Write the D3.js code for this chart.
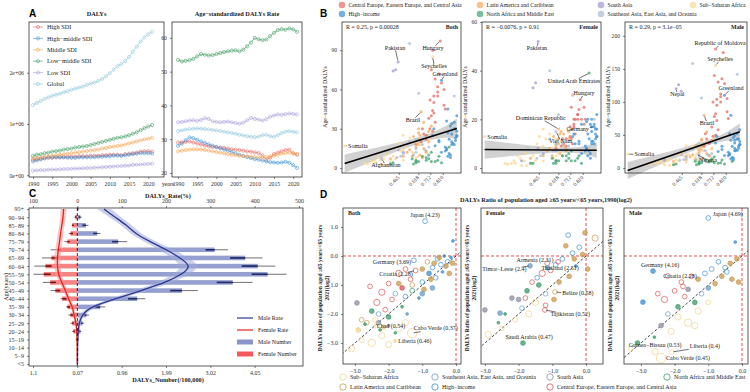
<!DOCTYPE html>
<html>
<head>
<meta charset="utf-8">
<script src="https://cdn.jsdelivr.net/npm/d3@7"></script>
<style>
  body { margin: 0; background: #fff; }
</style>
</head>
<body>
<div id="chart"></div>
<script>

// ---------------- panel A data ----------------
const aYears = [1990, 1991, 1992, 1993, 1994, 1995, 1996, 1997, 1998, 1999, 2000, 2001, 2002, 2003, 2004, 2005,
    2006, 2007, 2008, 2009, 2010, 2011, 2012, 2013, 2014, 2015, 2016, 2017, 2018, 2019, 2020, 2021];
const aGroups = ['High SDI', 'High\u2212middle SDI', 'Middle SDI', 'Low\u2212middle SDI', 'Low SDI', 'Global'];
const aColors = ['#E2625A', '#3A8ED3', '#F2A24E', '#3B9A5C', '#A89CD9', '#8DC5DB'];
const aYearTicks = [1990, 1995, 2000, 2005, 2010, 2015, 2020];

// DALYs counts, millions
const numHigh = [0.30, 0.31, 0.32, 0.33, 0.34, 0.34, 0.35, 0.35, 0.35, 0.36, 0.36, 0.36, 0.37, 0.37, 0.37, 0.38,
    0.38, 0.38, 0.39, 0.39, 0.40, 0.40, 0.40, 0.39, 0.41, 0.42, 0.43, 0.44, 0.46, 0.47, 0.47, 0.46];
const numHighMid = [0.27, 0.29, 0.31, 0.33, 0.35, 0.35, 0.35, 0.35, 0.35, 0.34, 0.34, 0.34, 0.35, 0.35, 0.35, 0.35,
    0.35, 0.36, 0.36, 0.37, 0.37, 0.38, 0.38, 0.38, 0.39, 0.40, 0.41, 0.42, 0.43, 0.43, 0.43, 0.42];
const numMid = [0.33, 0.34, 0.35, 0.36, 0.37, 0.38, 0.39, 0.40, 0.41, 0.42, 0.43, 0.44, 0.45, 0.46, 0.47, 0.48,
    0.49, 0.50, 0.52, 0.53, 0.55, 0.56, 0.57, 0.58, 0.60, 0.62, 0.64, 0.66, 0.68, 0.70, 0.71, 0.73];
const numLowMid = [0.38, 0.40, 0.41, 0.43, 0.44, 0.46, 0.47, 0.48, 0.50, 0.51, 0.52, 0.54, 0.55, 0.56, 0.57, 0.59,
    0.61, 0.63, 0.65, 0.67, 0.69, 0.71, 0.73, 0.74, 0.76, 0.78, 0.81, 0.84, 0.88, 0.92, 0.95, 0.98];
const numLow = [0.09, 0.095, 0.10, 0.10, 0.105, 0.11, 0.11, 0.115, 0.12, 0.12, 0.125, 0.13, 0.13, 0.135, 0.14, 0.14,
    0.145, 0.15, 0.155, 0.16, 0.165, 0.17, 0.175, 0.18, 0.185, 0.19, 0.20, 0.205, 0.21, 0.215, 0.22, 0.225];
const numGlobal = [1.37, 1.41, 1.45, 1.49, 1.52, 1.55, 1.57, 1.59, 1.62, 1.64, 1.67, 1.69, 1.71, 1.73, 1.76, 1.79,
    1.81, 1.84, 1.88, 1.93, 1.99, 2.06, 2.13, 2.17, 2.23, 2.31, 2.41, 2.51, 2.61, 2.69, 2.75, 2.80];

// age-standardized DALYs rate
const rateHigh = [29.0, 29.1, 29.2, 29.3, 29.0, 28.7, 28.4, 28.1, 27.9, 27.7, 27.6, 27.5, 27.4, 27.2, 27.0, 26.9,
    26.8, 26.6, 26.4, 26.3, 26.1, 25.9, 25.2, 24.0, 24.5, 25.6, 26.0, 26.4, 26.8, 26.9, 25.8, 25.4];
const rateHighMid = [28.0, 28.7, 29.7, 30.5, 30.3, 29.8, 29.3, 28.9, 28.5, 28.1, 27.7, 27.3, 26.9, 26.6, 26.2, 25.8,
    25.4, 25.0, 24.7, 24.4, 24.1, 23.9, 23.7, 23.4, 23.2, 23.1, 23.0, 23.1, 23.3, 23.0, 22.3, 21.5];
const rateMid = [26.4, 26.6, 26.8, 26.9, 27.0, 27.0, 26.9, 26.8, 26.6, 26.4, 26.2, 26.0, 25.8, 25.6, 25.4, 25.3,
    25.1, 25.0, 24.9, 24.8, 24.7, 24.6, 24.6, 24.7, 24.9, 25.1, 25.4, 25.7, 25.9, 26.0, 25.8, 25.6];
const rateLowMid = [53.5, 53.0, 53.2, 53.4, 53.8, 54.5, 55.2, 55.0, 54.8, 54.9, 55.2, 55.5, 55.8, 56.0, 56.2, 56.3,
    56.0, 56.5, 57.5, 58.6, 60.0, 59.6, 59.3, 59.5, 60.5, 61.5, 62.3, 62.6, 62.4, 62.8, 62.5, 61.8];
const rateLow = [35.0, 35.1, 35.3, 35.5, 35.6, 35.4, 35.7, 36.2, 36.0, 35.3, 35.1, 35.0, 35.1, 35.2, 35.0, 34.8,
    34.6, 34.9, 35.6, 36.3, 36.0, 35.8, 35.5, 35.9, 36.6, 37.0, 37.3, 37.2, 37.4, 37.6, 37.5, 37.3];
const rateGlobal = [32.4, 32.6, 32.8, 33.0, 33.1, 33.2, 33.1, 33.0, 32.9, 32.7, 32.6, 32.4, 32.2, 32.0, 31.8, 31.6,
    31.3, 31.1, 30.9, 30.7, 30.6, 30.8, 31.2, 31.3, 30.9, 30.7, 31.2, 31.8, 32.2, 32.4, 32.2, 32.0];

// ---------------- panel B data ----------------
const bRegions = ['Central Europe, Eastern Europe, and Central Asia', 'Latin America and Caribbean', 'South Asia',
    'Sub\u2212Saharan Africa', 'High\u2212income', 'North Africa and Middle East', 'Southeast Asia, East Asia, and Oceania'];
const bColors = ['#E26A66', '#F2A85C', '#A195D3', '#F8D896', '#3C90D3', '#41A272', '#A6BED6'];
const bFacets = ['Both', 'Female', 'Male'];
const bStats = ['R = 0.25, p = 0.00028', 'R = \u22120.0076, p = 0.91', 'R = 0.29, p = 3.1e\u221205'];
const bFit = [[2.2, 30.5], [7.6, -0.3], [-6.5, 66.7]];          // intercept, slope
const bBand = [[7, 2.5, 7.5], [3.8, 1.0, 3.2], [13, 4, 13]];    // CI half width at min, mean, max SDI
const bYTicks = [[0, 30, 60, 90], [0, 20, 40, 60], [0, 50, 100, 150, 200]];
const bYDomain = [[-3.8, 111.5], [-2.05, 60], [-7.6, 221]];
const bSdiTicks = [0.465, 0.618, 0.712, 0.810];

// name, SDI, region, both, female, male
const bCountries = [
    ['Hungary', 0.79, 0, 97, 28, 175], ['Republic of Moldova', 0.73, 0, 90, 30, 180], ['Czechia', 0.82, 0, 60, 25, 105],
    ['Poland', 0.77, 0, 55, 20, 100], ['Slovakia', 0.77, 0, 62, 22, 112], ['Croatia', 0.77, 0, 58, 22, 108],
    ['Slovenia', 0.83, 0, 45, 20, 75], ['Lithuania', 0.80, 0, 65, 20, 128], ['Latvia', 0.78, 0, 72, 24, 135],
    ['Estonia', 0.82, 0, 48, 18, 85], ['Belarus', 0.75, 0, 68, 20, 130], ['Russian Federation', 0.74, 0, 50, 18, 95],
    ['Ukraine', 0.71, 0, 52, 17, 100], ['Romania', 0.72, 0, 75, 25, 140], ['Bulgaria', 0.74, 0, 55, 20, 104],
    ['Serbia', 0.74, 0, 42, 17, 72], ['Bosnia and Herzegovina', 0.70, 0, 38, 15, 62], ['Montenegro', 0.75, 0, 35, 14, 58],
    ['North Macedonia', 0.71, 0, 30, 13, 48], ['Albania', 0.68, 0, 25, 12, 38], ['Georgia', 0.72, 0, 40, 12, 78],
    ['Armenia', 0.73, 0, 28, 10, 50], ['Azerbaijan', 0.68, 0, 22, 9, 38], ['Kazakhstan', 0.73, 0, 44, 16, 82],
    ['Kyrgyzstan', 0.65, 0, 30, 12, 52], ['Tajikistan', 0.60, 0, 18, 8, 30], ['Turkmenistan', 0.66, 0, 26, 10, 44],
    ['Uzbekistan', 0.64, 0, 20, 9, 33],
    ['Brazil', 0.64, 1, 43, 15, 80], ['Mexico', 0.68, 1, 12, 7, 18], ['Colombia', 0.66, 1, 15, 9, 22],
    ['Peru', 0.65, 1, 8, 5, 12], ['Venezuela', 0.62, 1, 18, 10, 27], ['Ecuador', 0.63, 1, 10, 6, 15],
    ['Bolivia', 0.57, 1, 9, 5, 13], ['Paraguay', 0.62, 1, 22, 12, 32], ['Cuba', 0.70, 1, 28, 15, 42],
    ['Dominican Republic', 0.62, 1, 30, 16, 44], ['Haiti', 0.40, 1, 7, 4, 10], ['Guatemala', 0.50, 1, 9, 5, 13],
    ['Honduras', 0.53, 1, 12, 7, 17], ['Nicaragua', 0.55, 1, 14, 8, 20], ['El Salvador', 0.60, 1, 16, 9, 24],
    ['Costa Rica', 0.70, 1, 20, 12, 29], ['Panama', 0.68, 1, 13, 8, 19], ['Jamaica', 0.63, 1, 25, 14, 36],
    ['Trinidad and Tobago', 0.72, 1, 32, 16, 48], ['Belize', 0.60, 1, 19, 10, 28], ['Guyana', 0.58, 1, 24, 13, 35],
    ['Suriname', 0.62, 1, 27, 12, 42], ['Grenada', 0.66, 1, 35, 14, 55],
    ['Pakistan', 0.46, 2, 81, 52, 116], ['India', 0.44, 2, 75, 35, 126], ['Nepal', 0.42, 2, 74, 33, 120],
    ['Bangladesh', 0.46, 2, 14, 8, 20], ['Bhutan', 0.50, 2, 12, 6, 18], ['Afghanistan', 0.33, 2, 7, 3, 12],
    ['Somalia', 0.04, 3, 17, 13, 21], ['Niger', 0.20, 3, 4, 2, 6], ['Chad', 0.22, 3, 3, 1.5, 5],
    ['Mali', 0.25, 3, 5, 2, 8], ['Central African Republic', 0.27, 3, 6, 3, 9], ['Burkina Faso', 0.28, 3, 4, 2, 7],
    ['South Sudan', 0.30, 3, 8, 5, 10], ['Ethiopia', 0.32, 3, 6, 4, 8], ['Guinea', 0.33, 3, 3, 1, 5],
    ['DR Congo', 0.35, 3, 7, 3, 11], ['Mozambique', 0.36, 3, 10, 6, 14], ['Sierra Leone', 0.37, 3, 2, 1, 4],
    ['Liberia', 0.38, 3, 12, 8, 15], ['Madagascar', 0.40, 3, 5, 2, 8], ['Senegal', 0.40, 3, 3, 2, 5],
    ['Uganda', 0.42, 3, 9, 5, 13], ['Tanzania', 0.44, 3, 7, 3, 11], ['Zimbabwe', 0.45, 3, 15, 10, 21],
    ['Zambia', 0.47, 3, 19, 13, 25], ['Cameroon', 0.48, 3, 13, 8, 18], ['Kenya', 0.50, 3, 14, 9, 20],
    ['Angola', 0.50, 3, 6, 3, 9], ['Ghana', 0.52, 3, 16, 12, 20], ['Namibia', 0.57, 3, 12, 8, 17],
    ['Nigeria', 0.58, 3, 11, 4, 21], ['Cabo Verde', 0.60, 3, 8, 5, 12], ['Botswana', 0.60, 3, 20, 12, 30],
    ['Gabon', 0.62, 3, 9, 6, 12], ['South Africa', 0.64, 3, 18, 11, 26], ['Mauritius', 0.70, 3, 22, 15, 30],
    ['Seychelles', 0.73, 3, 85, 30, 155], ['Eswatini', 0.55, 3, 23, 14, 33], ['Lesotho', 0.50, 3, 25, 16, 34],
    ['Greenland', 0.80, 4, 67, 18, 110], ['Germany', 0.90, 4, 30, 17, 44], ['Japan', 0.87, 4, 10, 6, 15],
    ['United States of America', 0.86, 4, 22, 12, 33], ['United Kingdom', 0.88, 4, 18, 10, 26], ['France', 0.85, 4, 27, 14, 42],
    ['Italy', 0.84, 4, 15, 8, 22], ['Spain', 0.83, 4, 16, 9, 24], ['Canada', 0.88, 4, 20, 11, 30],
    ['Australia', 0.89, 4, 19, 11, 27], ['Finland', 0.90, 4, 35, 18, 52], ['Norway', 0.92, 4, 24, 13, 35],
    ['Sweden', 0.91, 4, 21, 12, 30], ['Denmark', 0.92, 4, 28, 16, 40], ['Belgium', 0.88, 4, 26, 15, 38],
    ['Austria', 0.88, 4, 29, 17, 42], ['Switzerland', 0.90, 4, 18, 10, 27], ['Netherlands', 0.91, 4, 23, 14, 33],
    ['Ireland', 0.88, 4, 34, 20, 49], ['Portugal', 0.78, 4, 21, 10, 33], ['Greece', 0.80, 4, 12, 6, 19],
    ['Israel', 0.85, 4, 9, 5, 14], ['Republic of Korea', 0.86, 4, 11, 7, 16], ['Singapore', 0.87, 4, 8, 4, 12],
    ['Luxembourg', 0.92, 4, 25, 13, 36], ['Iceland', 0.92, 4, 40, 22, 58], ['Chile', 0.75, 4, 17, 10, 25],
    ['Uruguay', 0.74, 4, 30, 14, 48], ['Argentina', 0.73, 4, 25, 13, 38], ['New Zealand', 0.87, 4, 32, 18, 46],
    ['Cyprus', 0.84, 4, 14, 8, 20], ['Malta', 0.83, 4, 13, 7, 19], ['Andorra', 0.84, 4, 36, 19, 52],
    ['Brunei Darussalam', 0.78, 4, 20, 11, 28], ['Monaco', 0.91, 4, 30, 16, 44], ['San Marino', 0.85, 4, 45, 20, 80],
    ['Egypt', 0.60, 5, 6, 3, 9], ['Iran', 0.68, 5, 8, 5, 11], ['Turkey', 0.70, 5, 10, 6, 14],
    ['Saudi Arabia', 0.75, 5, 5, 3, 7], ['United Arab Emirates', 0.86, 5, 16, 39, 10], ['Iraq', 0.60, 5, 4, 2, 6],
    ['Syria', 0.58, 5, 3, 2, 5], ['Morocco', 0.57, 5, 7, 4, 10], ['Algeria', 0.62, 5, 5, 3, 8],
    ['Tunisia', 0.65, 5, 9, 5, 13], ['Libya', 0.68, 5, 6, 3, 9], ['Jordan', 0.70, 5, 7, 4, 10],
    ['Lebanon', 0.72, 5, 12, 7, 17], ['Kuwait', 0.78, 5, 9, 5, 12], ['Qatar', 0.80, 5, 4, 2, 6],
    ['Oman', 0.72, 5, 5, 3, 8], ['Bahrain', 0.77, 5, 6, 4, 8], ['Yemen', 0.40, 5, 3, 2, 5],
    ['Sudan', 0.42, 5, 4, 2, 6], ['Palestine', 0.60, 5, 5, 3, 7],
    ['Mongolia', 0.55, 6, 95, 40, 158], ['China', 0.67, 6, 14, 8, 20], ['Indonesia', 0.60, 6, 12, 7, 17],
    ['Viet Nam', 0.60, 6, 22, 15, 38], ['Thailand', 0.65, 6, 18, 10, 26], ['Philippines', 0.58, 6, 10, 7, 13],
    ['Malaysia', 0.70, 6, 16, 9, 22], ['Cambodia', 0.48, 6, 9, 5, 13], ['Lao PDR', 0.45, 6, 8, 4, 12],
    ['Myanmar', 0.50, 6, 11, 6, 16], ['Papua New Guinea', 0.38, 6, 13, 8, 18], ['Fiji', 0.60, 6, 15, 10, 20],
    ['Samoa', 0.55, 6, 20, 12, 28], ['Sri Lanka', 0.62, 6, 57, 22, 106], ['Taiwan', 0.90, 6, 55, 20, 142]
];
// facet, country, label centre (SDI, value)
const bLabels = [
    [0, 'Pakistan', 0.435, 92], [0, 'Hungary', 0.733, 92], [0, 'Seychelles', 0.741, 78], [0, 'Greenland', 0.827, 72],
    [0, 'Brazil', 0.576, 37], [0, 'Afghanistan', 0.364, 2.3], [0, 'Somalia', 0.144, 16.8],
    [1, 'Pakistan', 0.45, 49.5], [1, 'United Arab Emirates', 0.741, 36], [1, 'Hungary', 0.82, 30.8],
    [1, 'Dominican Republic', 0.48, 20.5], [1, 'Germany', 0.77, 16], [1, 'Viet Nam', 0.636, 11.3], [1, 'Somalia', 0.138, 12.7],
    [2, 'Republic of Moldova', 0.765, 189], [2, 'Seychelles', 0.765, 165], [2, 'Greenland', 0.852, 121],
    [2, 'Nepal', 0.43, 112], [2, 'Brazil', 0.663, 68], [2, 'Nigeria', 0.67, 12], [2, 'Somalia', 0.17, 21]
];

// ---------------- panel C data ----------------
const cAges = ['<5', '5\u22129', '10\u221214', '15\u221219', '20\u221224', '25\u221229', '30\u221234', '35\u221239', '40\u221244',
    '45\u221249', '50\u221254', '55\u221259', '60\u221264', '65\u221269', '70\u221274', '75\u221279', '80\u221284', '85\u221289', '90\u221294', '95+'];
const cMaleRate = [0.5, 0.5, 0.6, 1, 2, 4, 10, 29, 88, 143, 200, 236, 258, 232, 202, 164, 130, 112, 85, 60];
const cMaleRateLo = [0, 0, 0, 0, 0, 1, 5, 20, 76, 128, 183, 218, 238, 212, 186, 150, 118, 100, 72, 44];
const cMaleRateHi = [1, 1, 1, 2, 4, 7, 15, 38, 100, 158, 217, 254, 278, 252, 218, 178, 142, 124, 98, 76];
const cFemRate = [0.2, 0.2, 0.3, 0.5, 1, 3, 7, 11, 20, 27, 35, 43, 45, 45, 43, 40, 38, 35, 32, 31];
const cFemRateLo = [0, 0, 0, 0, 0, 1, 4, 7, 15, 22, 29, 36, 38, 38, 36, 33, 32, 29, 26, 24];
const cFemRateHi = [0.5, 0.5, 0.6, 1, 2, 5, 10, 15, 25, 32, 41, 50, 52, 52, 50, 47, 44, 41, 38, 38];
const cMaleNum = [0, 0, 0, 0.02, 0.07, 0.12, 0.21, 0.53, 1.39, 2.43, 3.61, 4.42, 4.19, 3.9, 3.19, 0.95, 0.46, 0.2, 0.07, 0.02];
const cMaleNumLo = [0, 0, 0, 0.01, 0.05, 0.09, 0.15, 0.42, 1.18, 2.16, 3.24, 4.05, 3.82, 3.55, 2.98, 0.81, 0.37, 0.12, 0.03, 0];
const cMaleNumHi = [0, 0, 0, 0.03, 0.09, 0.16, 0.27, 0.65, 1.58, 2.8, 4.07, 4.86, 4.6, 4.3, 3.5, 1.16, 0.54, 0.26, 0.1, 0.04];
const cFemNum = [0, 0, 0, 0.02, 0.09, 0.12, 0.16, 0.23, 0.35, 0.51, 0.63, 0.78, 0.74, 0.6, 0.46, 0.23, 0.16, 0.12, 0.05, 0.01];
const cFemNumLo = [0, 0, 0, 0.01, 0.06, 0.08, 0.1, 0.17, 0.25, 0.4, 0.5, 0.62, 0.6, 0.48, 0.39, 0.18, 0.1, 0.08, 0.02, 0];
const cFemNumHi = [0, 0, 0, 0.04, 0.12, 0.16, 0.21, 0.26, 0.39, 0.62, 0.8, 1.02, 1.0, 0.82, 0.62, 0.3, 0.2, 0.13, 0.07, 0.02];
const cRateTicks = [-100, 0, 100, 200, 300, 400, 500];
const cRateLabels = ['100', '0', '100', '200', '300', '400', '500'];
const cNumTicks = [-1.03, 0, 1.03, 2.06, 3.09, 4.12];
const cNumLabels = ['1.1', '0.07', '0.96', '1.99', '3.02', '4.05'];

// ---------------- panel D data ----------------
const dColors = ['#D9534F', '#C99A50', '#8C8FA3', '#F0D48A', '#3F8FD2', '#3E9B6A', '#6C9CC6'];
const dLegendOrder = [3, 6, 2, 5, 1, 4, 0];
const dFacets = ['Both', 'Female', 'Male'];
// log2 ratio 1990, log2 ratio 2021, region, size, filled
const dBoth = [
    [-0.92, 1.2, 4, 2, 0], [-0.09, 0.52, 4, 1, 1], [-0.55, -0.1, 4, 2, 0], [-0.45, -0.3, 4, 2, 0], [-0.7, -0.4, 4, 2, 0],
    [-0.35, 0.0, 4, 1, 1], [-0.25, -0.2, 4, 2, 0], [-0.8, -0.6, 4, 2, 1], [-1.25, -0.15, 4, 2, 0], [-0.6, -0.75, 4, 2, 0],
    [-0.15, -0.05, 4, 1, 1], [-1.0, -0.9, 4, 2, 0], [-0.4, -0.55, 4, 1, 1], [-1.5, -1.4, 4, 2, 0], [-1.1, -1.45, 4, 1, 1],
    [-0.5, -0.05, 1, 2, 1], [-0.3, -0.35, 1, 2, 1], [-0.65, -0.25, 1, 2, 1], [-0.2, -0.6, 1, 2, 1], [-0.85, -0.2, 1, 2, 0],
    [-1.0, -0.45, 1, 2, 1], [-0.1, -0.25, 1, 2, 1], [-0.75, -0.8, 1, 2, 1], [-1.3, -1.0, 1, 2, 0], [-2.8, -2.2, 1, 2, 0],
    [-2.65, -2.3, 1, 2, 0], [-1.7, -0.95, 1, 2, 1], [-0.95, -1.15, 1, 2, 1],
    [-1.5, -0.45, 0, 2, 0], [-1.7, -0.6, 0, 3, 0], [-2.0, -0.95, 0, 2, 0], [-1.35, -0.8, 0, 2, 0], [-2.2, -1.25, 0, 3, 0],
    [-1.9, -1.5, 0, 2, 0], [-2.35, -1.6, 0, 3, 0], [-1.6, -1.1, 0, 2, 1], [-2.55, -1.05, 0, 2, 0], [-2.1, -1.85, 0, 2, 0],
    [-1.2, -0.5, 0, 2, 0],
    [-2.5, -1.9, 5, 2, 1], [-2.0, -2.1, 5, 2, 1], [-1.6, -1.75, 5, 1, 1], [-2.7, -2.35, 5, 1, 1], [-1.3, -1.2, 5, 2, 0],
    [-2.25, -2.55, 5, 1, 1], [-1.8, -2.65, 5, 1, 1],
    [-1.0, -1.3, 6, 2, 1], [-1.45, -2.0, 6, 1, 1], [-1.8, -1.3, 6, 2, 0], [-2.3, -2.0, 6, 2, 0], [-0.7, -1.1, 6, 2, 1],
    [-2.94, -1.62, 2, 2, 1], [-2.3, -2.3, 2, 2, 1], [-2.0, -2.4, 2, 1, 1],
    [-2.35, -2.4, 3, 2, 0], [-1.3, -2.66, 3, 6, 0], [-1.81, -2.93, 3, 1, 1], [-2.2, -2.75, 3, 3, 0], [-2.5, -3.0, 3, 4, 0],
    [-2.0, -3.05, 3, 3, 0], [-1.7, -2.5, 3, 3, 0], [-2.8, -2.9, 3, 2, 0], [-3.1, -3.2, 3, 3, 0], [-2.4, -2.2, 3, 2, 0],
    [-1.5, -2.3, 3, 3, 0], [-2.9, -2.55, 3, 2, 1], [-2.15, -2.45, 3, 2, 1]
];
const dFemale = [
    [0.27, 0.62, 1, 3, 0], [-0.03, 0.8, 1, 2, 1], [-0.53, 0.72, 4, 2, 0], [-0.2, 0.3, 4, 2, 0], [-0.4, 0.1, 4, 2, 0],
    [-0.7, -0.1, 4, 2, 0], [-0.1, 0.05, 1, 2, 1], [-0.6, 0.35, 1, 2, 1], [-0.9, -0.3, 4, 2, 0], [-0.3, -0.35, 4, 1, 1],
    [0.05, -0.45, 1, 2, 1], [-1.15, -0.25, 0, 2, 0], [-1.05, -0.5, 0, 2, 0], [-1.3, -0.6, 0, 3, 0], [-1.66, -0.34, 6, 2, 1],
    [-0.83, -0.2, 0, 2, 0], [-1.13, -0.41, 6, 2, 1], [-1.6, -0.9, 0, 2, 0], [-1.4, -1.0, 5, 2, 1], [-1.75, -1.2, 5, 2, 1],
    [-1.2, -1.3, 6, 2, 0], [-0.8, -0.9, 1, 2, 1], [-0.5, -0.7, 1, 2, 1], [-0.92, -1.24, 1, 2, 0], [-2.0, -1.5, 2, 2, 1],
    [-2.2, -1.45, 2, 2, 1], [-1.9, -1.8, 6, 2, 0], [-2.4, -2.0, 5, 1, 1], [-2.1, -2.2, 3, 2, 0], [-1.7, -2.0, 3, 3, 0],
    [-2.5, -2.5, 3, 2, 0], [-2.9, -2.7, 3, 3, 0], [-2.55, -1.97, 6, 2, 1], [-3.0, -1.86, 2, 2, 1], [-1.22, -1.86, 0, 2, 0],
    [-1.87, -3.0, 5, 2, 1], [-2.3, -2.8, 3, 2, 0], [-1.5, -1.6, 3, 3, 0], [-1.2, -1.7, 0, 2, 0], [-0.95, -1.5, 1, 2, 1],
    [-2.6, -2.3, 5, 1, 1], [-0.35, -0.1, 1, 2, 1], [-1.45, -0.75, 4, 2, 0], [-1.8, -1.45, 0, 2, 0]
];
const dMale = [
    [-0.2, 0.48, 4, 1, 1], [-0.15, -0.1, 1, 2, 1], [-0.35, -0.25, 1, 2, 1], [-0.5, -0.4, 4, 2, 0], [-0.7, -0.2, 4, 2, 0],
    [-0.9, -0.45, 4, 2, 0], [-0.6, -0.7, 1, 2, 1], [-1.1, -0.6, 4, 2, 0], [-1.3, -0.8, 1, 2, 1], [-1.5, -0.7, 0, 2, 0],
    [-0.3, -0.8, 1, 2, 1], [-0.1, -0.9, 1, 2, 1], [-1.8, -0.9, 0, 2, 0], [-2.0, -1.2, 0, 2, 0], [-2.3, -1.5, 0, 3, 0],
    [-1.7, -1.4, 0, 2, 0], [-2.5, -1.3, 0, 2, 0], [-2.94, -1.59, 4, 2, 1], [-1.2, -1.3, 6, 2, 0], [-1.4, -1.6, 5, 2, 1],
    [-1.9, -1.75, 5, 2, 1], [-2.2, -2.0, 6, 2, 0], [-1.0, -1.1, 6, 2, 1], [-1.6, -2.3, 3, 4, 0], [-1.9, -2.1, 3, 3, 0],
    [-2.1, -2.6, 3, 3, 0], [-1.4, -2.4, 3, 3, 0], [-2.6, -2.8, 5, 1, 1], [-3.1, -3.0, 5, 2, 1], [-3.3, -3.2, 3, 2, 0],
    [-1.3, -1.9, 3, 3, 0], [-1.0, -1.6, 3, 2, 0], [-2.4, -2.4, 2, 2, 1], [-1.6, -1.15, 2, 2, 1], [-2.58, -3.3, 3, 3, 0],
    [-2.08, -3.31, 3, 2, 0], [-2.4, -3.52, 3, 6, 0], [-2.64, -0.52, 4, 2, 1], [-2.2, -0.69, 0, 2, 0], [-1.0, 1.31, 4, 2, 0],
    [-0.8, -0.95, 1, 2, 1], [-1.75, -1.05, 0, 2, 0], [-0.45, -0.55, 4, 2, 0]
];
// facet, text, point x, point y, label centre x, label centre y
const dLabels = [
    [0, 'Japan (4.23)', -0.92, 1.2, -0.92, 1.42], [0, 'Germany (3.69)', -1.25, -0.15, -1.9, -0.2],
    [0, 'Croatia (2.28)', -1.2, -0.5, -1.78, -0.62], [0, 'Chad (0.54)', -2.35, -2.4, -1.93, -2.41],
    [0, 'Cabo Verde (0.37)', -1.3, -2.66, -0.6, -2.48], [0, 'Liberia (0.46)', -1.81, -2.93, -1.22, -2.93],
    [1, 'Armenia (2.31)', -0.83, -0.2, -1.51, -0.14], [1, 'Timor\u2212Leste (2.4)', -1.66, -0.34, -2.42, -0.45],
    [1, 'Thailand (2.51)', -1.13, -0.41, -0.77, -0.41], [1, 'Belize (0.58)', -0.92, -1.24, -0.24, -1.28],
    [1, 'Tajikistan (0.52)', -1.22, -1.86, -0.47, -2.0], [1, 'Saudi Arabia (0.47)', -1.87, -3.0, -1.69, -2.79],
    [2, 'Japan (4.69)', -1.0, 1.31, -0.42, 1.45], [2, 'Germany (4.16)', -2.64, -0.52, -2.43, -0.31],
    [2, 'Croatia (2.28)', -2.2, -0.69, -1.84, -0.69], [2, 'Guinea\u2212Bissau (0.53)', -2.58, -3.3, -2.58, -3.07],
    [2, 'Liberia (0.4)', -2.08, -3.31, -1.1, -3.1], [2, 'Cabo Verde (0.45)', -2.4, -3.52, -1.6, -3.52]
];

// ---------------- helpers ----------------
const serif = '"Liberation Serif", "Times New Roman", serif';
const sans = '"Liberation Sans", Arial, sans-serif';

const svg = d3.select('#chart').append('svg')
    .attr('width', 750)
    .attr('height', 392)
    .attr('font-family', serif);
svg.append('rect').attr('width', 750).attr('height', 392).attr('fill', '#fff');

const addText = (g, x, y, s, o = {}) => g.append('text')
    .attr('x', x).attr('y', y).text(s)
    .attr('font-family', o.family || serif)
    .attr('font-size', o.size || 6.3)
    .attr('font-weight', o.weight || 'normal')
    .attr('text-anchor', o.anchor || 'start')
    .attr('fill', o.fill || '#222')
    .attr('transform', o.rotate ? `rotate(${o.rotate},${x},${y})` : null);

const frame = (g, x0, y0, x1, y1) => g.append('rect')
    .attr('x', x0).attr('y', y0).attr('width', x1 - x0).attr('height', y1 - y0)
    .attr('fill', 'none').attr('stroke', '#333').attr('stroke-width', 0.8);

const tidyAxis = (sel, size) => {
    sel.attr('font-family', serif).attr('font-size', size);
    sel.select('.domain').remove();
    sel.selectAll('.tick line').attr('stroke', '#333').attr('stroke-width', 0.6);
    sel.selectAll('.tick text').attr('font-family', serif).attr('font-size', size).attr('fill', '#333');
    return sel;
};

// leader line from a point to the edge of a label's box
const leader = (g, px, py, node, minLen) => {
    const b = node.getBBox();
    const x0 = b.x - 1, x1 = b.x + b.width + 1, y0 = b.y + 1, y1 = b.y + b.height - 0.5;
    const cx = (x0 + x1) / 2, cy = (y0 + y1) / 2;
    const dx = cx - px, dy = cy - py;
    const tx = px < x0 ? (x0 - px) / dx : px > x1 ? (x1 - px) / dx : 0;
    const ty = py < y0 ? (y0 - py) / dy : py > y1 ? (y1 - py) / dy : 0;
    const t = Math.max(tx, ty);
    const ex = px + t * dx, ey = py + t * dy;
    const len = Math.hypot(ex - px, ey - py);
    if (len < minLen) return;
    const ux = (ex - px) / len, uy = (ey - py) / len;
    g.append('line')
        .attr('x1', px + ux * 1.5).attr('y1', py + uy * 1.5)
        .attr('x2', ex).attr('y2', ey)
        .attr('stroke', '#111').attr('stroke-width', 0.6);
};

const panelLetter = (x, y, s) => addText(svg, x, y, s, {family: sans, weight: 'bold', size: 10, fill: '#000'});

// ================= panel A =================
panelLetter(29, 17, 'A');
const aNum = [numHigh, numHighMid, numMid, numLowMid, numLow, numGlobal];
const aRate = [rateHigh, rateHighMid, rateMid, rateLowMid, rateLow, rateGlobal];

const trendPlot = (x0, x1, yearDomain, yDomain, yTicks, yFmt, series, title, withLegend) => {
    const g = svg.append('g');
    const x = d3.scaleLinear().domain(yearDomain).range([x0, x1]);
    const y = d3.scaleLinear().domain(yDomain).range([177, 22]);
    addText(g, (x0 + x1) / 2, 16, title, {weight: 'bold', anchor: 'middle', size: 6.3});

    tidyAxis(g.append('g').attr('transform', 'translate(0,177)')
        .call(d3.axisBottom(x).tickValues(aYearTicks).tickSize(2).tickFormat(d3.format('d'))), 5.8);
    tidyAxis(g.append('g').attr('transform', `translate(${x0},0)`)
        .call(d3.axisLeft(y).tickValues(yTicks).tickSize(2).tickFormat(yFmt)), 5.8);

    const line = d3.line().x((d, i) => x(aYears[i])).y(d => y(d));
    series.forEach((vals, si) => {
        g.append('path').datum(vals).attr('d', line)
            .attr('fill', 'none').attr('stroke', aColors[si]).attr('stroke-width', 0.6);
        g.selectAll(null).data(vals).enter().append('circle')
            .attr('cx', (d, i) => x(aYears[i])).attr('cy', d => y(d)).attr('r', 1.6)
            .attr('fill', 'none').attr('stroke', aColors[si]).attr('stroke-width', 0.55);
    });
    frame(g, x0, 22, x1, 177);

    if (withLegend) {
        aGroups.forEach((name, i) => {
            const ly = 27 + i * 11.4;
            g.append('line').attr('x1', x0 + 4).attr('x2', x0 + 14).attr('y1', ly).attr('y2', ly)
                .attr('stroke', aColors[i]).attr('stroke-width', 0.6);
            g.append('circle').attr('cx', x0 + 9).attr('cy', ly).attr('r', 1.6)
                .attr('fill', 'none').attr('stroke', aColors[i]).attr('stroke-width', 0.55);
            addText(g, x0 + 18, ly + 2.2, name, {size: 6.3});
        });
    }
};

const sciLabels = {0: '0e+00', 1: '1e+06', 2: '2e+06'};
trendPlot(29, 164, [1988.96, 2024.1], [-0.035, 2.99], [0, 1, 2], d => sciLabels[d], aNum, 'DALYs', true);
trendPlot(172, 302, [1988.44, 2022.3], [18.8, 64.7], [20, 30, 40, 50, 60], d3.format('d'), aRate,
    'Age\u2212standardized DALYs Rate', false);
addText(svg, 168, 186, 'years', {anchor: 'middle', size: 5.8});

// ================= panel B =================
panelLetter(320, 17, 'B');
const bLegendPos = [[342, 5], [480, 5], [601, 5], [693, 5], [342, 14], [480, 14], [601, 14]];
bRegions.forEach((name, i) => {
    svg.append('circle').attr('cx', bLegendPos[i][0]).attr('cy', bLegendPos[i][1]).attr('r', 3.3)
        .attr('fill', bColors[i]).attr('fill-opacity', 0.7);
    addText(svg, bLegendPos[i][0] + 6.5, bLegendPos[i][1] + 2.1, name, {size: 5.7});
});

const bFrameX = [[342, 461], [482, 601], [625, 747]];
const sdiExtent = d3.extent(bCountries, d => d[1]);
const sdiMean = d3.mean(bCountries, d => d[1]);

bFacets.forEach((facet, fi) => {
    const g = svg.append('g');
    const [fx0, fx1] = bFrameX[fi];
    const x = d3.scaleLinear().domain([0.019, 0.019 + (fx1 - fx0) / 127.4]).range([fx0, fx1]);
    const y = d3.scaleLinear().domain(bYDomain[fi]).range([173, 22]);
    const [a, b] = bFit[fi];
    const fit = s => a + b * s;

    // confidence band
    const bandPts = [[sdiExtent[0], bBand[fi][0]], [sdiMean, bBand[fi][1]], [sdiExtent[1], bBand[fi][2]]];
    g.append('path').datum(bandPts)
        .attr('d', d3.area().curve(d3.curveNatural)
            .x(d => x(d[0])).y0(d => y(fit(d[0]) - d[1])).y1(d => y(fit(d[0]) + d[1])))
        .attr('fill', '#9a9a9a').attr('fill-opacity', 0.45);

    g.selectAll(null).data(bCountries).enter().append('circle')
        .attr('cx', d => x(d[1])).attr('cy', d => y(d[3 + fi])).attr('r', 1.5)
        .attr('fill', d => bColors[d[2]]).attr('fill-opacity', 0.75);

    g.append('line')
        .attr('x1', x(sdiExtent[0])).attr('y1', y(fit(sdiExtent[0])))
        .attr('x2', x(sdiExtent[1])).attr('y2', y(fit(sdiExtent[1])))
        .attr('stroke', '#000').attr('stroke-width', 1.6);

    const ax = tidyAxis(g.append('g').attr('transform', 'translate(0,173)')
        .call(d3.axisBottom(x).tickValues(bSdiTicks).tickSize(2).tickFormat(d3.format('.3f'))), 5.4);
    ax.selectAll('.tick text').attr('x', -3).attr('y', 2).attr('dy', '0.35em')
        .attr('transform', 'rotate(-45)').attr('text-anchor', 'end');
    tidyAxis(g.append('g').attr('transform', `translate(${fx0},0)`)
        .call(d3.axisLeft(y).tickValues(bYTicks[fi]).tickSize(2)), 5.6);
    frame(g, fx0, 22, fx1, 173);

    addText(g, fx0 - 15, 97, 'Age\u2212standardized DALYs', {anchor: 'middle', rotate: -90, size: 5.8});
    addText(g, fx0 + 4, 29, bStats[fi], {size: 6});
    addText(g, fx1 - 3, 29, facet, {anchor: 'end', weight: 'bold', size: 6});

    bLabels.filter(l => l[0] === fi).forEach(l => {
        const c = bCountries.find(d => d[0] === l[1]);
        const t = addText(g, x(l[2]), y(l[3]) + 2.2, l[1], {anchor: 'middle', size: 6, fill: '#111'});
        leader(g, x(c[1]), y(c[3 + fi]), t.node(), 2);
    });
});

// ================= panel C =================
panelLetter(29, 197, 'C');
{
    const g = svg.append('g');
    const xRate = d3.scaleLinear().domain([-100, 500]).range([33, 299]);
    const xNum = d3.scaleLinear().domain([-1.03, 5.15]).range([33, 299]);
    const y = d3.scalePoint().domain(cAges.slice().reverse()).range([209, 364]);
    const barH = 4.6;

    // number bars
    g.selectAll(null).data(cAges).enter().append('rect')
        .attr('x', xNum(0)).attr('y', d => y(d) - barH / 2)
        .attr('width', (d, i) => xNum(cMaleNum[i]) - xNum(0)).attr('height', barH)
        .attr('fill', '#7C88C4').attr('fill-opacity', 0.8);
    g.selectAll(null).data(cAges).enter().append('rect')
        .attr('x', (d, i) => xNum(-cFemNum[i])).attr('y', d => y(d) - barH / 2)
        .attr('width', (d, i) => xNum(0) - xNum(-cFemNum[i])).attr('height', barH)
        .attr('fill', '#F25A5A').attr('fill-opacity', 0.75);

    // error bars
    cAges.forEach((age, i) => {
        if (cMaleNumHi[i] > 0.02) {
            g.append('line').attr('x1', xNum(cMaleNumLo[i])).attr('x2', xNum(cMaleNumHi[i]))
                .attr('y1', y(age)).attr('y2', y(age)).attr('stroke', '#111').attr('stroke-width', 0.6);
            g.append('line').attr('x1', xNum(cMaleNumLo[i])).attr('x2', xNum(cMaleNum[i]))
                .attr('y1', y(age)).attr('y2', y(age)).attr('stroke', '#1F2C6B').attr('stroke-width', 1.6);
        }
        if (cFemNumHi[i] > 0.02) {
            g.append('line').attr('x1', xNum(-cFemNumLo[i])).attr('x2', xNum(-cFemNumHi[i]))
                .attr('y1', y(age)).attr('y2', y(age)).attr('stroke', '#111').attr('stroke-width', 0.6);
            g.append('line').attr('x1', xNum(-cFemNumLo[i])).attr('x2', xNum(-cFemNum[i]))
                .attr('y1', y(age)).attr('y2', y(age)).attr('stroke', '#7A1414').attr('stroke-width', 1.6);
        }
    });

    // rate ribbons and lines
    const idx = d3.range(cAges.length);
    g.append('path').datum(idx)
        .attr('d', d3.area().curve(d3.curveBasis).y(i => y(cAges[i]))
            .x0(i => xRate(cMaleRateLo[i])).x1(i => xRate(cMaleRateHi[i])))
        .attr('fill', '#9FAAD8').attr('fill-opacity', 0.55);
    g.append('path').datum(idx)
        .attr('d', d3.area().curve(d3.curveBasis).y(i => y(cAges[i]))
            .x0(i => xRate(-cFemRateLo[i])).x1(i => xRate(-cFemRateHi[i])))
        .attr('fill', '#F59A9A').attr('fill-opacity', 0.55);
    g.append('path').datum(idx)
        .attr('d', d3.line().curve(d3.curveBasis).y(i => y(cAges[i])).x(i => xRate(cMaleRate[i])))
        .attr('fill', 'none').attr('stroke', '#2B388F').attr('stroke-width', 1.3);
    g.append('path').datum(idx)
        .attr('d', d3.line().curve(d3.curveBasis).y(i => y(cAges[i])).x(i => xRate(-cFemRate[i])))
        .attr('fill', 'none').attr('stroke', '#E8211C').attr('stroke-width', 1.3);

    g.append('line').attr('x1', xRate(0)).attr('x2', xRate(0)).attr('y1', 208).attr('y2', 366)
        .attr('stroke', '#000').attr('stroke-width', 0.8).attr('stroke-dasharray', '3,2');

    tidyAxis(g.append('g').attr('transform', 'translate(0,208)')
        .call(d3.axisTop(xRate).tickValues(cRateTicks).tickSize(2)
            .tickFormat((d, i) => cRateLabels[i])), 6);
    tidyAxis(g.append('g').attr('transform', 'translate(0,366)')
        .call(d3.axisBottom(xNum).tickValues(cNumTicks).tickSize(2)
            .tickFormat((d, i) => cNumLabels[i])), 6);
    tidyAxis(g.append('g').attr('transform', 'translate(29,0)')
        .call(d3.axisLeft(y).tickSize(2)), 6);
    frame(g, 29, 208, 303, 366);

    addText(g, 168, 198, 'DALYs_Rate(%)', {anchor: 'middle', weight: 'bold', size: 6.3});
    addText(g, 168, 382, 'DALYs_Number(/100,000)', {anchor: 'middle', weight: 'bold', size: 6.3});
    addText(g, 8, 287, 'Age(years)', {anchor: 'middle', rotate: -90, size: 6.3});

    // legend
    const lx = 237;
    g.append('line').attr('x1', lx).attr('x2', lx + 16).attr('y1', 318).attr('y2', 318)
        .attr('stroke', '#2B388F').attr('stroke-width', 1.2);
    g.append('line').attr('x1', lx).attr('x2', lx + 16).attr('y1', 330).attr('y2', 330)
        .attr('stroke', '#E8211C').attr('stroke-width', 1.2);
    g.append('rect').attr('x', lx).attr('y', 339.5).attr('width', 16).attr('height', 5)
        .attr('fill', '#7C88C4').attr('fill-opacity', 0.9);
    g.append('rect').attr('x', lx).attr('y', 351.5).attr('width', 16).attr('height', 5)
        .attr('fill', '#F04848').attr('fill-opacity', 0.9);
    ['Male Rate', 'Female Rate', 'Male Number', 'Female Number'].forEach((s, i) => {
        addText(g, lx + 21, 320 + i * 12, s, {size: 6});
    });
}

// ================= panel D =================
panelLetter(320, 198, 'D');
addText(svg, 546, 202, 'DALYs Ratio of population aged \u226565 years/<65 years,1990(log2)',
    {anchor: 'middle', weight: 'bold', size: 6.3});

const dFrameX = [[343, 461], [481, 603], [624, 748]];
const dXDomain = [[-3.353, 0.148], [-3.116, 0.504], [-3.501, 0.178]];
const dData = [dBoth, dFemale, dMale];
const yD = d3.scaleLinear().domain([-3.724, 1.655]).range([364, 208]);
const rD = d3.scaleSqrt().domain([1, 6]).range([1.4, 4.8]);

dFacets.forEach((facet, fi) => {
    const g = svg.append('g');
    const [fx0, fx1] = dFrameX[fi];
    const x = d3.scaleLinear().domain(dXDomain[fi]).range([fx0, fx1]);
    const clipId = `dclip${fi}`;
    g.append('clipPath').attr('id', clipId).append('rect')
        .attr('x', fx0).attr('y', 208).attr('width', fx1 - fx0).attr('height', 156);
    const inner = g.append('g').attr('clip-path', `url(#${clipId})`);

    inner.append('line').attr('x1', fx0).attr('x2', fx1).attr('y1', yD(0)).attr('y2', yD(0))
        .attr('stroke', '#E23A3A').attr('stroke-width', 0.9).attr('stroke-dasharray', '3,2');
    inner.append('line').attr('x1', x(0)).attr('x2', x(0)).attr('y1', 208).attr('y2', 364)
        .attr('stroke', '#E23A3A').attr('stroke-width', 0.9).attr('stroke-dasharray', '3,2');
    const lo = -3.8, hi = 1.7;
    inner.append('line').attr('x1', x(lo)).attr('y1', yD(lo)).attr('x2', x(hi)).attr('y2', yD(hi))
        .attr('stroke', '#111').attr('stroke-width', 0.8).attr('stroke-dasharray', '2.5,2');

    inner.selectAll(null).data(dData[fi]).enter().append('circle')
        .attr('cx', d => x(d[0])).attr('cy', d => yD(d[1])).attr('r', d => rD(d[3]))
        .attr('fill', d => d[4] ? dColors[d[2]] : 'none').attr('fill-opacity', 0.75)
        .attr('stroke', d => dColors[d[2]]).attr('stroke-width', 0.7);

    tidyAxis(g.append('g').attr('transform', 'translate(0,364)')
        .call(d3.axisBottom(x).tickValues([-3, -2, -1, 0]).tickSize(2)), 6);
    if (fi === 0) {
        tidyAxis(g.append('g').attr('transform', `translate(${fx0},0)`)
            .call(d3.axisLeft(yD).tickValues([1, 0, -1, -2, -3]).tickSize(2)), 6);
    }
    frame(g, fx0, 208, fx1, 364);
    addText(g, fx0 + 5, 215, facet, {weight: 'bold', size: 6});

    const ylx = fi === 0 ? fx0 - 21 : fx0 - 12;
    addText(g, ylx, 288, 'DALYs Ratio of population aged \u226565 years/<65 years', {anchor: 'middle', rotate: -90, weight: 'bold', size: 5.6});
    addText(g, ylx + 7, 288, '2021(log2)', {anchor: 'middle', rotate: -90, weight: 'bold', size: 5.6});

    dLabels.filter(l => l[0] === fi).forEach(l => {
        const t = addText(g, x(l[4]), yD(l[5]) + 2.2, l[1], {anchor: 'middle', size: 6, fill: '#222'});
        leader(g, x(l[2]), yD(l[3]), t.node(), 6);
    });
});

// panel D legend
const dLegendPos = [[343, 377], [435, 377], [550, 377], [667, 377], [343, 387], [435, 387], [550, 387]];
dLegendOrder.forEach((ri, i) => {
    svg.append('circle').attr('cx', dLegendPos[i][0]).attr('cy', dLegendPos[i][1]).attr('r', 3.2)
        .attr('fill', 'none').attr('stroke', dColors[ri]).attr('stroke-width', 0.8);
    addText(svg, dLegendPos[i][0] + 7, dLegendPos[i][1] + 2.2, bRegions[ri], {size: 6});
});

</script>
</body>
</html>
